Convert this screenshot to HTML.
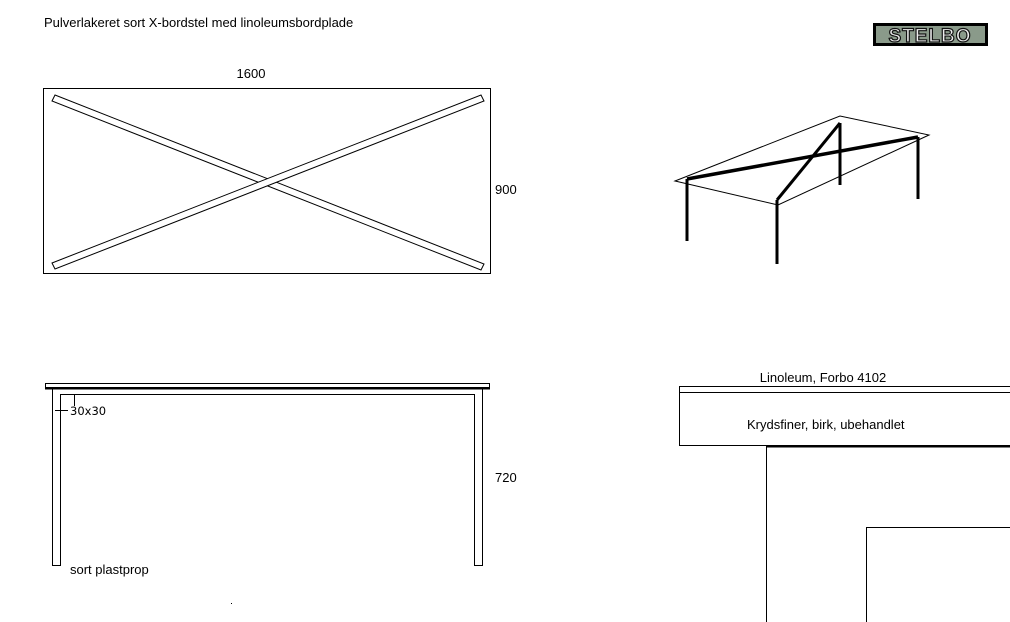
<!DOCTYPE html>
<html><head><meta charset="utf-8"><style>
body{margin:0;background:#fff;}
svg{display:block;font-family:"Liberation Sans",sans-serif;}
</style></head><body>
<svg width="1010" height="622" viewBox="0 0 1010 622" xmlns="http://www.w3.org/2000/svg">
<rect width="1010" height="622" fill="#fff"/>
<text x="44" y="27" font-size="13" fill="#000">Pulverlakeret sort X-bordstel med linoleumsbordplade</text>
<!-- logo -->
<rect x="873" y="23" width="115" height="23" fill="#000"/>
<rect x="876" y="26" width="109" height="17" fill="#8a9a8a"/>
<text x="930" y="42" font-size="19" font-weight="bold" text-anchor="middle" fill="#eee" stroke="#111" stroke-width="1.2" font-family="Liberation Sans,sans-serif" letter-spacing="1">STELBO</text>
<!-- plan -->
<text x="251" y="78" font-size="13" text-anchor="middle">1600</text>
<rect x="43.5" y="88.5" width="447" height="185" fill="none" stroke="#000"/>
<polygon points="55,95 484,264 481,270 52,101" fill="#fff" stroke="#000"/>
<polygon points="52,263 481,95 484,101 55,269" fill="#fff" stroke="#000"/>
<text x="495" y="194" font-size="13">900</text>
<!-- 3D -->
<g fill="none" stroke="#000">
<polygon points="675,181 840,116 929,135 778,205" stroke-width="1"/>
<line x1="687" y1="179" x2="918" y2="137" stroke-width="3.5"/>
<line x1="777" y1="200" x2="840" y2="123" stroke-width="3"/>
<line x1="687" y1="179" x2="687" y2="241" stroke-width="3"/>
<line x1="777" y1="200" x2="777" y2="264" stroke-width="3"/>
<line x1="840" y1="123" x2="840" y2="185" stroke-width="3"/>
<line x1="918" y1="137" x2="918" y2="199" stroke-width="3"/>
</g>
<!-- side view -->
<g fill="none" stroke="#000">
<rect x="45.5" y="383.5" width="444" height="4" />
<line x1="45" y1="388.5" x2="490" y2="388.5" stroke-width="2"/>
<polyline points="52.5,388 52.5,565.5 60.5,565.5 60.5,394.5 474.5,394.5 474.5,565.5 482.5,565.5 482.5,388"/>
<line x1="74.5" y1="394" x2="74.5" y2="406"/>
<line x1="55" y1="410.5" x2="68" y2="410.5"/>
</g>
<text x="70" y="415" font-size="11.5" font-family="DejaVu Sans,sans-serif">30x30</text>
<text x="495" y="482" font-size="13">720</text>
<text x="70" y="574" font-size="13">sort plastprop</text>
<rect x="231" y="603" width="1" height="1" fill="#000"/>
<!-- detail -->
<text x="823" y="382" font-size="13" text-anchor="middle">Linoleum, Forbo 4102</text>
<g fill="none" stroke="#000">
<polyline points="1010,386.5 679.5,386.5 679.5,445.5 1010,445.5"/>
<line x1="680" y1="392.5" x2="1010" y2="392.5"/>
<line x1="766" y1="446.5" x2="1010" y2="446.5" stroke-width="2"/>
<line x1="766.5" y1="446" x2="766.5" y2="622"/>
<polyline points="866.5,622 866.5,527.5 1010,527.5"/>
</g>
<text x="747" y="429" font-size="13">Krydsfiner, birk, ubehandlet</text>
</svg>
</body></html>
